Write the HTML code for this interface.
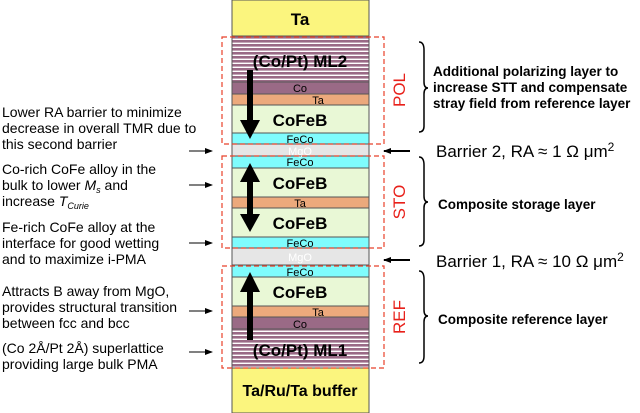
<!DOCTYPE html>
<html><head><style>body{margin:0;background:#fff}svg{display:block}</style></head><body>
<svg width="640" height="413" viewBox="0 0 640 413" xmlns="http://www.w3.org/2000/svg" font-family="Liberation Sans, sans-serif">
<defs>
<pattern id="st" width="10" height="4" patternUnits="userSpaceOnUse"><rect width="10" height="4" fill="#9a6a86"/><rect y="2.6" width="10" height="1.4" fill="#fff"/></pattern>
<marker id="ah" markerWidth="8" markerHeight="8" refX="7" refY="4" orient="auto" markerUnits="userSpaceOnUse"><path d="M0,1 L8,4 L0,7 Z" fill="#000"/></marker>
</defs>
<g stroke="#555" stroke-width="1">
<rect x="232" y="0" width="137" height="36" fill="#fbf57e"/>
<rect x="232" y="36" width="137" height="46" fill="url(#st)"/>
<rect x="232" y="82" width="137" height="12" fill="#9a6a86"/>
<rect x="232" y="94" width="137" height="11" fill="#eca97c"/>
<rect x="232" y="105" width="137" height="28" fill="#e9f8d6"/>
<rect x="232" y="133" width="137" height="11" fill="#7ffcfd"/>
<rect x="232" y="144" width="137" height="12" fill="#e6e6e6"/>
<rect x="232" y="156" width="137" height="12" fill="#7ffcfd"/>
<rect x="232" y="168" width="137" height="29" fill="#e9f8d6"/>
<rect x="232" y="197" width="137" height="11" fill="#eca97c"/>
<rect x="232" y="208" width="137" height="29" fill="#e9f8d6"/>
<rect x="232" y="237" width="137" height="11" fill="#7ffcfd"/>
<rect x="232" y="248" width="137" height="17" fill="#e6e6e6"/>
<rect x="232" y="265" width="137" height="12" fill="#7ffcfd"/>
<rect x="232" y="277" width="137" height="29" fill="#e9f8d6"/>
<rect x="232" y="306" width="137" height="11" fill="#eca97c"/>
<rect x="232" y="317" width="137" height="12" fill="#9a6a86"/>
<rect x="232" y="329" width="137" height="39" fill="url(#st)"/>
<rect x="232" y="368" width="137" height="45" fill="#fbf57e"/>
</g>
<g font-weight="bold" text-anchor="middle" fill="#000">
<text x="300" y="25" font-size="17">Ta</text>
<text x="300" y="67" font-size="17">(Co/Pt) ML2</text>
<text x="300" y="92" font-size="11" font-weight="normal">Co</text>
<text x="318" y="104" font-size="11" font-weight="normal">Ta</text>
<text x="300" y="126" font-size="17">CoFeB</text>
<text x="300" y="143" font-size="11" font-weight="normal">FeCo</text>
<text x="300" y="155" font-size="11" font-weight="normal" fill="#fff">MgO</text>
<text x="300" y="166" font-size="11" font-weight="normal">FeCo</text>
<text x="300" y="189" font-size="17">CoFeB</text>
<text x="300" y="207" font-size="11" font-weight="normal">Ta</text>
<text x="300" y="229" font-size="17">CoFeB</text>
<text x="300" y="247" font-size="11" font-weight="normal">FeCo</text>
<text x="300" y="261" font-size="11" font-weight="normal" fill="#fff">MgO</text>
<text x="300" y="276" font-size="11" font-weight="normal">FeCo</text>
<text x="300" y="298" font-size="17">CoFeB</text>
<text x="318" y="316" font-size="11" font-weight="normal">Ta</text>
<text x="300" y="328" font-size="11" font-weight="normal">Co</text>
<text x="300" y="356" font-size="17">(Co/Pt) ML1</text>
<text x="300" y="396" font-size="16">Ta/Ru/Ta buffer</text>
</g>
<!-- big arrows -->
<g fill="#000">
<rect x="247" y="70" width="6" height="52"/><path d="M240,120 L260,120 L250,139 Z"/>
<rect x="247" y="180" width="6" height="36"/><path d="M240,182 L260,182 L250,163 Z"/><path d="M240,214 L260,214 L250,232 Z"/>
<rect x="247" y="290" width="6" height="50"/><path d="M240,292 L260,292 L250,272 Z"/>
</g>
<!-- dashed boxes -->
<g fill="none" stroke="#e8412a" stroke-width="1.2" stroke-dasharray="5,3">
<rect x="222" y="37" width="162" height="107"/>
<rect x="222" y="156" width="162" height="92"/>
<rect x="222" y="266" width="162" height="102"/>
</g>
<g fill="#e8201a" font-size="17">
<text transform="translate(405,90) rotate(-90)" text-anchor="middle">POL</text>
<text transform="translate(405,202) rotate(-90)" text-anchor="middle">STO</text>
<text transform="translate(405,317) rotate(-90)" text-anchor="middle">REF</text>
</g>
<!-- braces -->
<g fill="none" stroke="#000" stroke-width="1.5">
<path d="M419,42 Q424,42 424,50 L424,82 Q424,88 428,88 Q424,88 424,94 L424,126 Q424,132 419,132"/>
<path d="M419,157 Q424,157 424,165 L424,196 Q424,202 428,202 Q424,202 424,208 L424,240 Q424,246 419,246"/>
<path d="M419,271 Q424,271 424,279 L424,310 Q424,316 428,316 Q424,316 424,322 L424,356 Q424,363 419,363"/>
</g>
<!-- barrier arrows -->
<g stroke="#000" stroke-width="2" marker-end="url(#ah)">
<line x1="410" y1="151" x2="384" y2="151"/>
<line x1="410" y1="260" x2="384" y2="260"/>
</g>
<g stroke="#000" stroke-width="1" marker-end="url(#ah)">
<line x1="189" y1="151" x2="212" y2="151"/>
<line x1="189" y1="185" x2="212" y2="185"/>
<line x1="189" y1="243" x2="212" y2="243"/>
<line x1="189" y1="311" x2="212" y2="311"/>
<line x1="189" y1="352" x2="212" y2="352"/>
</g>
<g font-size="13.5" font-weight="bold" fill="#000">
<text x="433" y="76">Additional polarizing layer to</text>
<text x="433" y="92">increase STT and compensate</text>
<text x="433" y="108">stray field from reference layer</text>
<text x="438" y="209">Composite storage layer</text>
<text x="438" y="324">Composite reference layer</text>
</g>
<g font-size="17" fill="#000">
<text x="436" y="157">Barrier 2, RA ≈ 1 Ω μm<tspan font-size="12" dy="-6">2</tspan></text>
<text x="436" y="267">Barrier 1, RA ≈ 10 Ω μm<tspan font-size="12" dy="-6">2</tspan></text>
</g>
<g font-size="14" fill="#000">
<text x="2" y="117">Lower RA barrier to minimize</text>
<text x="2" y="133">decrease in overall TMR due to</text>
<text x="2" y="149">this second barrier</text>
<text x="2" y="174">Co-rich CoFe alloy in the</text>
<text x="2" y="190">bulk to lower <tspan font-style="italic">M</tspan><tspan font-style="italic" font-size="9" dy="3">s</tspan><tspan dy="-3"> and</tspan></text>
<text x="2" y="206">increase <tspan font-style="italic">T</tspan><tspan font-style="italic" font-size="9" dy="3">Curie</tspan></text>
<text x="2" y="232">Fe-rich CoFe alloy at the</text>
<text x="2" y="248">interface for good wetting</text>
<text x="2" y="264">and to maximize i-PMA</text>
<text x="2" y="296">Attracts B away from MgO,</text>
<text x="2" y="312">provides structural transition</text>
<text x="2" y="328">between fcc and bcc</text>
<text x="2" y="353">(Co 2Å/Pt 2Å) superlattice</text>
<text x="2" y="369">providing large bulk PMA</text>
</g>
</svg>
</body></html>
